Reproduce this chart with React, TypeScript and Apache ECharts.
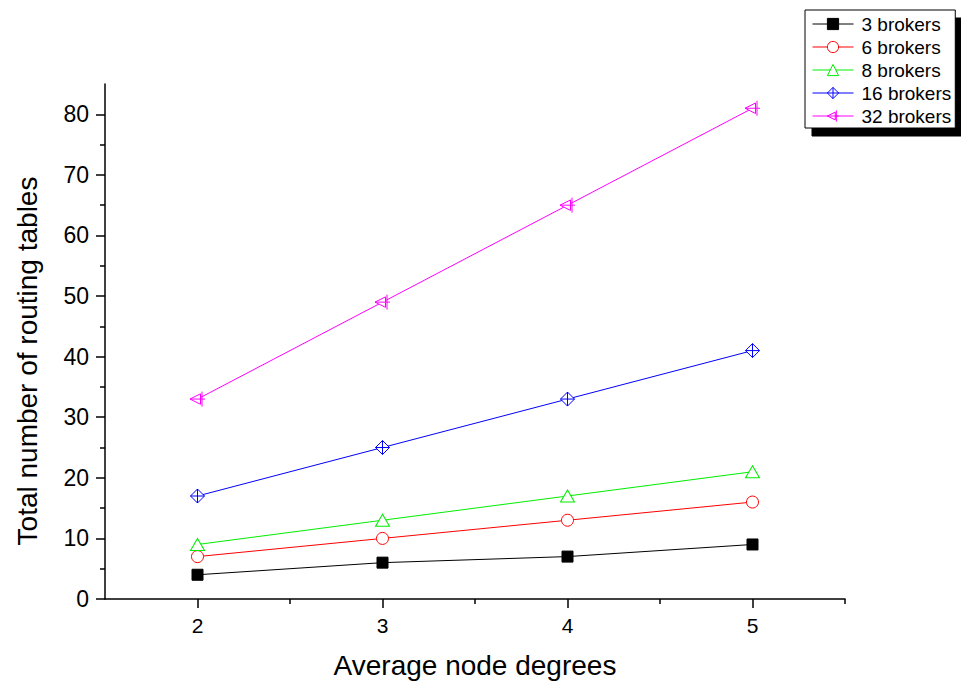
import { useEffect, useRef } from "react";
import * as echarts from "echarts";

const degrees = [2, 3, 4, 5];
const brokers3 = [4, 6, 7, 9];
const brokers6 = [7, 10, 13, 16];
const brokers8 = [9, 13, 17, 21];
const brokers16 = [17, 25, 33, 41];
const brokers32 = [33, 49, 65, 81];
const seriesNames = ["3 brokers", "6 brokers", "8 brokers", "16 brokers", "32 brokers"];
const seriesColors = ["#000000", "#ff0000", "#00ee00", "#0000ff", "#ff00ff"];
const seriesFills = ["#000000", "#ffffff", "#ffffff", "#ffffff", "#ffffff"];

const yMajorTicks = [0, 10, 20, 30, 40, 50, 60, 70, 80];
const yMinorTicks = [5, 15, 25, 35, 45, 55, 65, 75];
const xMajorTicks = [2, 3, 4, 5];
const xMinorTicks = [2.5, 3.5, 4.5, 5.5];

const FONT = "'Liberation Sans', Arial, sans-serif";

const diamondCross = "path://M0,-10 L10,0 L0,10 L-10,0 Z M0,-10 L0,10 M-10,0 L10,0";
const leftTriBar = "path://M-10,0 L4,-7 L4,7 Z M6,-10 L6,10 M-10,0 L10,0";

const pairs = (ys: number[]) => degrees.map((d, i) => [d, ys[i]]);

export default function App() {
  const ref = useRef<HTMLDivElement>(null);
  useEffect(() => {
    if (!ref.current) return;
    const chart = echarts.init(ref.current, null, { renderer: "svg" });

    const mk = (
      idx: number,
      ys: number[],
      symbol: string,
      size: number | number[]
    ) => ({
      name: seriesNames[idx],
      type: "line",
      data: pairs(ys),
      symbol,
      symbolSize: size,
      showSymbol: true,
      color: seriesColors[idx],
      lineStyle: { color: seriesColors[idx], width: 1 },
      itemStyle: { color: seriesFills[idx], borderColor: seriesColors[idx], borderWidth: 1 },
      emphasis: { disabled: true },
      z: 3,
    });

    chart.setOption({
      animation: false,
      backgroundColor: "#fff",
      textStyle: { fontFamily: FONT },
      grid: {
        left: 105,
        top: 84,
        right: 116,
        bottom: 83,
        containLabel: false,
        outerBoundsMode: "none",
      },
      xAxis: [
        {
          type: "value",
          min: 1.5,
          max: 5.5,
          interval: 0.5,
          position: "bottom",
          axisLine: { show: true, lineStyle: { color: "#000", width: 1.5 } },
          axisTick: { show: true, customValues: xMajorTicks, length: 9, lineStyle: { color: "#000", width: 1.5 } },
          axisLabel: { customValues: xMajorTicks, fontSize: 21, color: "#000", margin: 16, fontFamily: FONT },
          splitLine: { show: false },
          name: "Average node degrees",
          nameLocation: "middle",
          nameGap: 52,
          nameTextStyle: { fontSize: 28, color: "#000", fontFamily: FONT },
        },
        {
          type: "value",
          min: 1.5,
          max: 5.5,
          interval: 0.5,
          position: "top",
          offset: -515,
          axisLine: { show: false },
          axisTick: { show: true, inside: true, customValues: xMinorTicks, length: 5, lineStyle: { color: "#000", width: 1.5 } },
          axisLabel: { show: false },
          splitLine: { show: false },
        },
      ],
      yAxis: [
        {
          type: "value",
          min: 0,
          max: 85,
          interval: 10,
          position: "left",
          axisLine: { show: true, lineStyle: { color: "#000", width: 1.5 } },
          axisTick: { show: true, customValues: yMajorTicks, length: 9, lineStyle: { color: "#000", width: 1.5 } },
          axisLabel: { customValues: yMajorTicks, fontSize: 23, color: "#000", margin: 16, fontFamily: FONT },
          splitLine: { show: false },
        },
        {
          type: "value",
          min: 0,
          max: 85,
          interval: 5,
          position: "right",
          offset: -740,
          axisLine: { show: false },
          axisTick: { show: true, inside: true, customValues: yMinorTicks, length: 5, lineStyle: { color: "#000", width: 1.5 } },
          axisLabel: { show: false },
          splitLine: { show: false },
        },
      ],
      legend: {
        orient: "vertical",
        left: 805,
        top: 10,
        padding: [4, 4, 2, 7],
        itemGap: 3,
        itemWidth: 41,
        itemHeight: 14,
        backgroundColor: "#fff",
        borderColor: "#000",
        borderWidth: 1,
        borderRadius: 0,
        shadowColor: "#000",
        shadowBlur: 0,
        shadowOffsetX: 7,
        shadowOffsetY: 8,
        textStyle: { fontSize: 19, color: "#000", fontFamily: FONT, lineHeight: 20, padding: [0, 0, 0, 3] },
        data: seriesNames.map((n, i) => ({
          name: n,
          itemStyle: { color: seriesFills[i], borderColor: seriesColors[i], borderWidth: 1 },
          lineStyle: { color: seriesColors[i], width: 1 },
        })),
      },
      graphic: [
        {
          type: "text",
          x: 27,
          y: 361,
          rotation: Math.PI / 2,
          style: {
            text: "Total number of routing tables",
            fontSize: 28,
            fontFamily: FONT,
            fill: "#000",
            align: "center",
            verticalAlign: "middle",
          },
        },
      ],
      series: [
        mk(0, brokers3, "rect", 11),
        mk(1, brokers6, "circle", 12),
        mk(2, brokers8, "triangle", [14, 12]),
        mk(3, brokers16, diamondCross, 14),
        mk(4, brokers32, leftTriBar, 15),
      ],
    });

    return () => chart.dispose();
  }, []);

  return (
    <div
      ref={ref}
      style={{ position: "fixed", left: 0, top: 0, width: 961, height: 682 }}
    />
  );
}
